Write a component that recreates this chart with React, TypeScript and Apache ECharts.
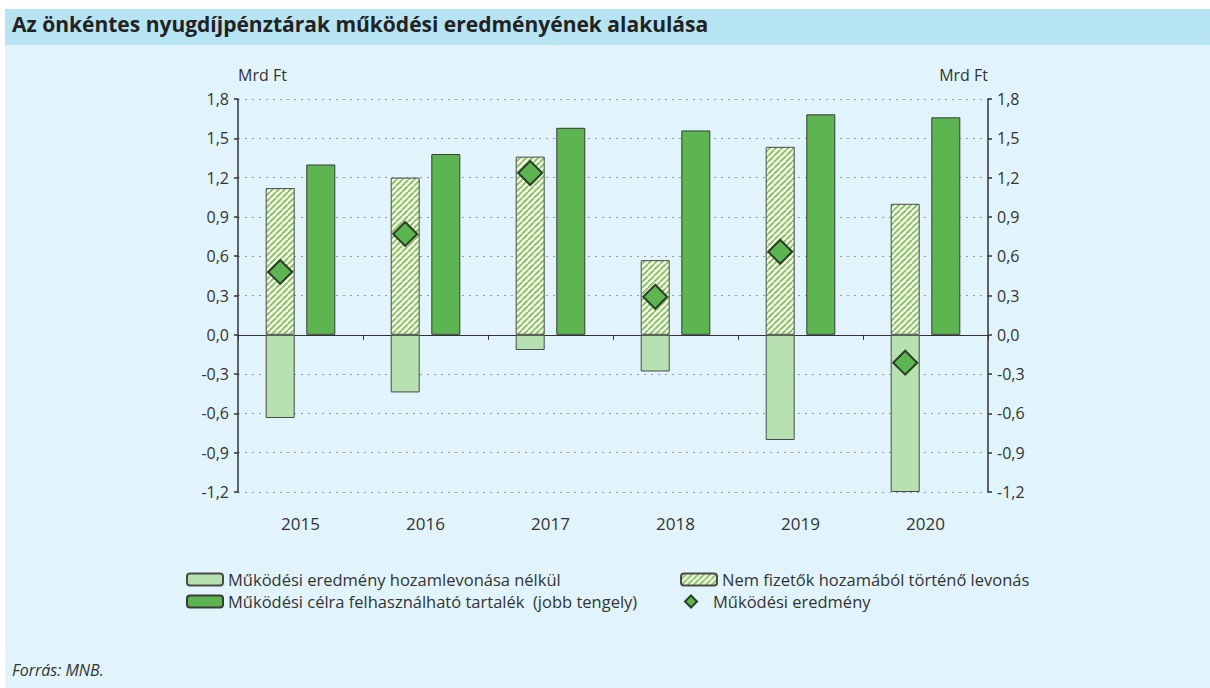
import React, { useEffect, useRef } from "react";
import * as echarts from "echarts";

const categories = ["2015", "2016", "2017", "2018", "2019", "2020"];
const resultWithoutDeduction = [-0.635, -0.44, -0.116, -0.28, -0.803, -1.2];
const nonPayerDeduction = [1.12, 1.2, 1.36, 0.57, 1.435, 1.0];
const reserve = [1.3, 1.38, 1.58, 1.56, 1.683, 1.66];
const operatingResult = [0.48, 0.77, 1.235, 0.29, 0.634, -0.213];

const yTicksMin = -1.2;
const yTicksMax = 1.8;
const yInterval = 0.3;

const NAME1 = "Működési eredmény hozamlevonása nélkül";
const NAME2 = "Nem fizetők hozamából történő levonás";
const NAME3 = "Működési célra felhasználható tartalék  (jobb tengely)";
const NAME4 = "Működési eredmény";

const FONT = "'Open Sans', 'Noto Sans', sans-serif";
const TXT = "#333333";

function makeHatch(): HTMLCanvasElement {
  const c = document.createElement("canvas");
  const s = 6;
  c.width = s;
  c.height = s;
  const ctx = c.getContext("2d")!;
  ctx.fillStyle = "#f4faee";
  ctx.fillRect(0, 0, s, s);
  ctx.strokeStyle = "#8fc266";
  ctx.lineWidth = 2;
  ctx.beginPath();
  for (let k = -1; k <= 1; k++) {
    ctx.moveTo(k * s, s);
    ctx.lineTo(k * s + s, 0);
  }
  ctx.stroke();
  return c;
}

export default function App() {
  const ref = useRef<HTMLDivElement>(null);
  useEffect(() => {
    if (!ref.current) return;
    const chart = echarts.init(ref.current, undefined, { renderer: "svg" });
    const hatch = { image: makeHatch(), repeat: "repeat" as const };
    const fmt = (v: number) => (Math.round(v * 10) / 10).toFixed(1).replace(".", ",");
    const legendText = { fontFamily: FONT, fontSize: 16.5, color: TXT };
    chart.setOption({
      animation: false,
      backgroundColor: "#ffffff",
      graphic: [
        { type: "rect", z: -10, shape: { x: 5, y: 9, width: 1205, height: 679 }, style: { fill: "#e2f4fb" } },
        { type: "rect", z: -9, shape: { x: 5, y: 9, width: 1205, height: 36 }, style: { fill: "#b7e4f3" } },
        {
          type: "text", left: 12, top: 13,
          style: { text: "Az önkéntes nyugdíjpénztárak működési eredményének alakulása", font: `bold 21px ${FONT}`, fill: "#222222" },
        },
        { type: "text", left: 238, top: 67, style: { text: "Mrd Ft", font: `16px ${FONT}`, fill: TXT } },
        { type: "text", right: 222, top: 67, style: { text: "Mrd Ft", font: `16px ${FONT}`, fill: TXT } },
        { type: "text", left: 12, top: 662, style: { text: "Forrás: MNB.", font: `italic 16px ${FONT}`, fill: TXT } },
      ],
      legend: [
        { data: [NAME1], left: 181, top: 566, itemWidth: 36, itemHeight: 12, itemGap: 0, textStyle: legendText, selectedMode: false },
        { data: [NAME3], left: 181, top: 588, itemWidth: 36, itemHeight: 12, itemGap: 0, textStyle: legendText, selectedMode: false },
        { data: [NAME2], left: 675, top: 566, itemWidth: 36, itemHeight: 12, itemGap: 0, textStyle: legendText, selectedMode: false },
        {
          data: [{ name: NAME4, icon: "diamond" }], left: 679, top: 588, itemWidth: 12, itemHeight: 12, itemGap: 0,
          textStyle: { ...legendText, padding: [0, 0, 0, 11] }, selectedMode: false,
        },
      ],
      grid: { left: 238, right: 222, top: 99, bottom: 196, containLabel: false },
      xAxis: [
        {
          type: "category", data: categories,
          axisLine: { onZero: true, lineStyle: { color: "#333", width: 1.2 } },
          axisTick: { show: true, length: 5, lineStyle: { color: "#333" } },
          axisLabel: { show: false },
        },
        {
          type: "category", data: categories, position: "bottom",
          axisLine: { show: false }, axisTick: { show: false },
          axisLabel: { margin: 23, fontFamily: FONT, fontSize: 17, color: TXT },
        },
      ],
      yAxis: [
        {
          type: "value", min: yTicksMin, max: yTicksMax, interval: yInterval,
          axisLine: { show: true, lineStyle: { color: "#333", width: 1.5 } },
          axisTick: { show: true, length: 4, lineStyle: { color: "#333", width: 1.5 } },
          axisLabel: { formatter: fmt, fontFamily: FONT, fontSize: 16, color: TXT, margin: 9 },
          splitLine: { show: true, lineStyle: { color: "#9a9a9a", type: [2, 5], width: 1 } },
        },
        {
          type: "value", min: yTicksMin, max: yTicksMax, interval: yInterval, position: "right",
          axisLine: { show: true, lineStyle: { color: "#333", width: 1.5 } },
          axisTick: { show: true, length: 4, lineStyle: { color: "#333", width: 1.5 } },
          axisLabel: { formatter: fmt, fontFamily: FONT, fontSize: 16, color: TXT, margin: 9 },
          splitLine: { show: false },
        },
      ],
      series: [
        {
          name: NAME1, type: "bar", stack: "left", data: resultWithoutDeduction, barWidth: 29, barGap: "40%",
          itemStyle: { color: "#b7e1b1", borderColor: "#4a4a4a", borderWidth: 1 },
        },
        {
          name: NAME2, type: "bar", stack: "left", data: nonPayerDeduction, barWidth: 29, barGap: "40%",
          itemStyle: { color: hatch, borderColor: "#4a4a4a", borderWidth: 1 },
        },
        {
          name: NAME3, type: "bar", yAxisIndex: 1, data: reserve, barWidth: 29, barGap: "40%",
          itemStyle: { color: "#5db552", borderColor: "#3a3a3a", borderWidth: 1 },
        },
        {
          name: NAME4, type: "scatter", data: operatingResult, symbol: "diamond", symbolSize: 24,
          symbolOffset: [-20.3, 0], z: 5,
          itemStyle: { color: "#5db552", borderColor: "#2b3f28", borderWidth: 2, opacity: 1 },
        },
      ],
    });
    return () => chart.dispose();
  }, []);
  return <div ref={ref} style={{ position: "absolute", left: 0, top: 0, width: 1210, height: 688 }} />;
}
